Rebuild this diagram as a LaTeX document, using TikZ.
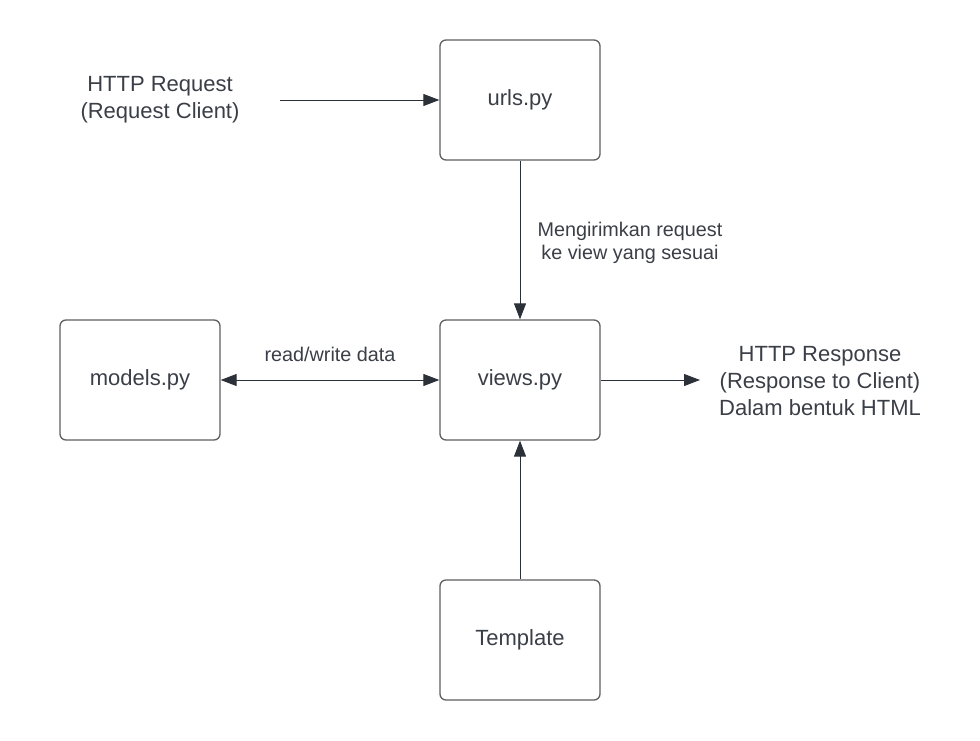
\documentclass[tikz,border=0pt]{standalone}
\usepackage{fontspec}
\setmainfont{Liberation Sans}
\usetikzlibrary{arrows.meta}
\definecolor{boxline}{HTML}{5E5E62}
\definecolor{arrowc}{HTML}{2C3038}
\definecolor{txt}{HTML}{3A3E46}
\begin{document}
\begin{tikzpicture}[x=1pt,y=-1pt,
  box/.style={draw=boxline,line width=1.3pt,rounded corners=6pt,minimum width=160pt,minimum height=120pt,inner sep=0pt,text=txt,font=\fontsize{22}{26}\selectfont},
  big/.style={text=txt,font=\fontsize{22}{27}\selectfont,align=center,inner sep=0pt},
  small/.style={text=txt,font=\fontsize{19.8}{23}\selectfont,align=center,inner sep=0pt},
  conn/.style={draw=arrowc,line width=1pt,-{Triangle[length=16pt,width=12pt]}},
  conn2/.style={draw=arrowc,line width=1pt,{Triangle[length=16pt,width=12pt]}-{Triangle[length=16pt,width=12pt]}}]
\useasboundingbox (0,0) rectangle (980,740);
\node[box] (urls) at (520,100) {urls.py};
\node[box] (views) at (520,380) {views.py};
\node[box] (models) at (140,380) {models.py};
\node[box] (tmpl) at (520,640) {Template};
\node[big] (req) at (160,100) {HTTP Request\\(Request Client)};
\node[big] (resp) at (820,381) {HTTP Response\\(Response to Client)\\Dalam bentuk HTML};
\node[small] (lbl1) at (630,243) {Mengirimkan request\\ke view yang sesuai};
\node[small] (lbl2) at (330,354) {read/write data};
\coordinate (reqstart) at (280,100);
\coordinate (respend) at (700,380);
\draw[conn] (reqstart) -- (urls.west);
\draw[conn] (urls.south) -- (views.north);
\draw[conn2] (models.east) -- (views.west);
\draw[conn] (views.east) -- (respend);
\draw[conn] (tmpl.north) -- (views.south);
\end{tikzpicture}
\end{document}
